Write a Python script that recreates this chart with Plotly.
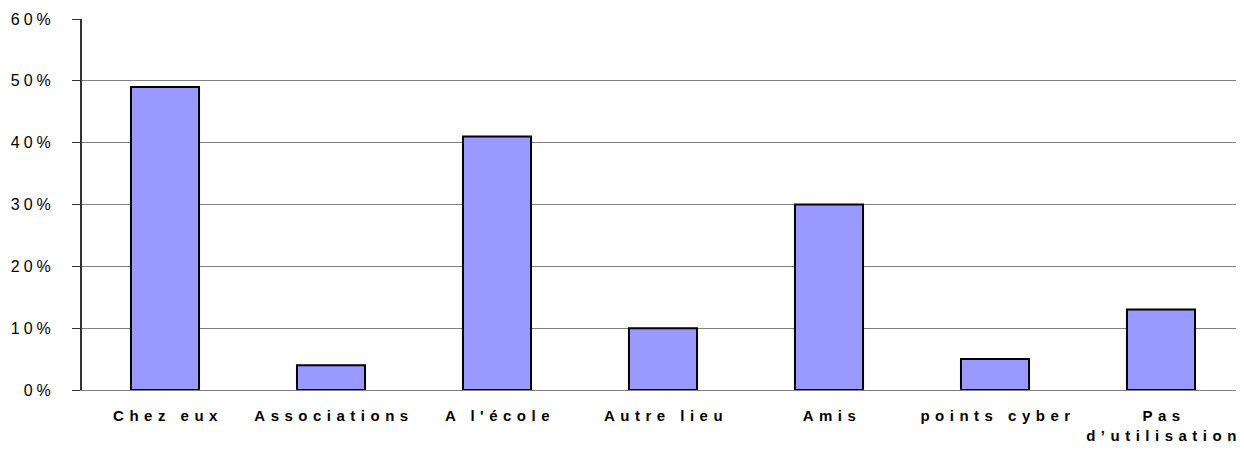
import plotly.graph_objects as go

categories = ["Chez eux", "Associations", "A l'école", "Autre lieu", "Amis", "points cyber", "Pas<br>d’utilisation"]
values = [49, 4, 41, 10, 30, 5, 13]
y_ticks = [0, 10, 20, 30, 40, 50, 60]
y_tick_labels = ["0%", "10%", "20%", "30%", "40%", "50%", "60%"]

fig = go.Figure(go.Bar(
    x=categories,
    y=values,
    marker=dict(color="#9999FF", line=dict(color="#000000", width=2)),
))

fig.update_layout(
    width=1236, height=444,
    margin=dict(l=74, r=0, t=11, b=62, autoexpand=False),
    plot_bgcolor="white", paper_bgcolor="white",
    bargap=0.59,
    showlegend=False,
    font=dict(family="Liberation Sans, Arial, sans-serif", color="#000000"),
)
fig.update_xaxes(
    automargin=False,
    showline=True, linecolor="#808080", linewidth=1,
    tickfont=dict(size=15, family="Liberation Sans, Arial, sans-serif", weight="bold"),
    ticks="", ticklabelstandoff=12, ticklabelshift=3,
    showgrid=False,
)
fig.update_yaxes(
    automargin=False,
    range=[0, 60], tickvals=y_ticks, ticktext=y_tick_labels,
    showline=True, linecolor="#333333", linewidth=2,
    ticks="outside", ticklen=8, tickcolor="#333333", tickwidth=1,
    showgrid=True, gridcolor="#808080", gridwidth=1,
    tickfont=dict(size=16), zeroline=False,
    ticklabelstandoff=14,
)

post = """
function sp(){
 document.querySelectorAll('.xtick text').forEach(function(t){t.style.letterSpacing='5.5px';});
 document.querySelectorAll('.ytick text').forEach(function(t){t.style.letterSpacing='4px';});
}
sp(); setTimeout(sp, 50);
"""
fig.write_html("out.html", post_script=post)
